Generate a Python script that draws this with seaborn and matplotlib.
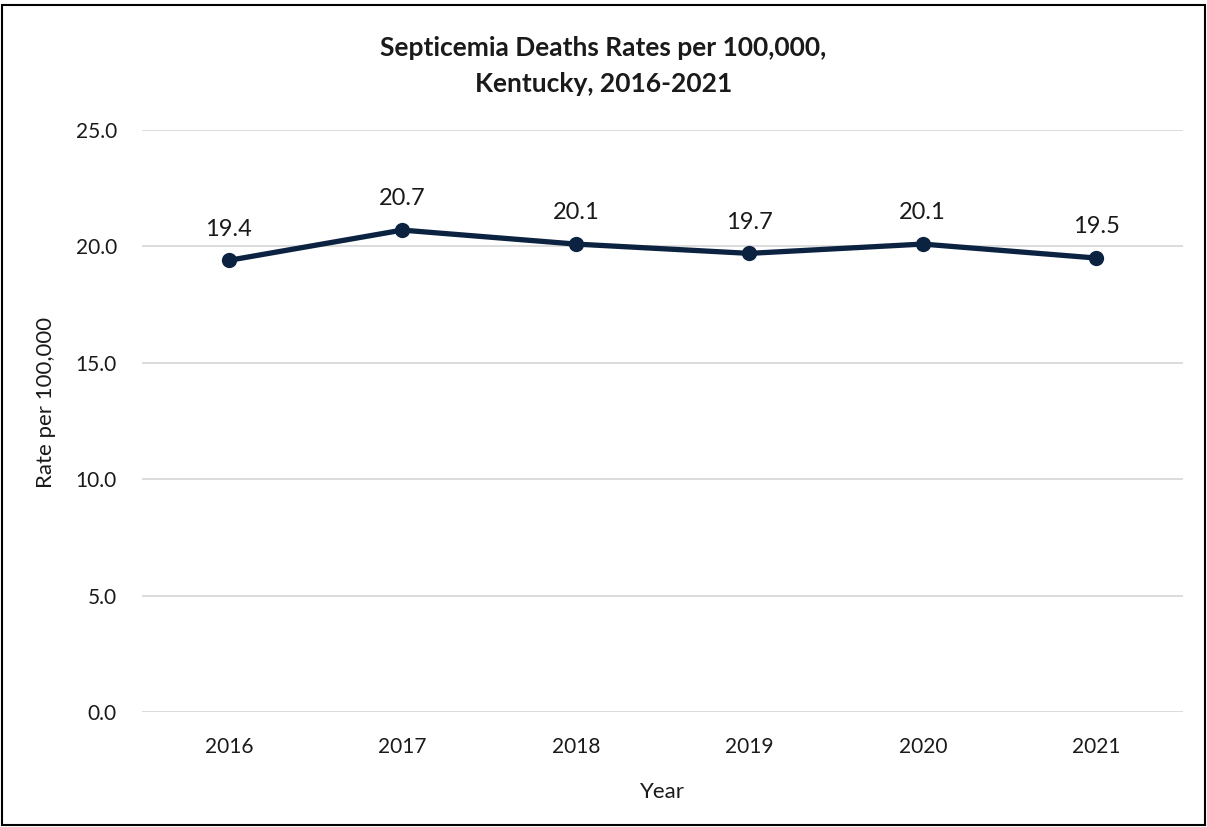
import matplotlib
matplotlib.use("Agg")
import matplotlib.pyplot as plt
import seaborn as sns
import pandas as pd
from matplotlib.patches import Rectangle

years = ['2016', '2017', '2018', '2019', '2020', '2021']
rates = [19.4, 20.7, 20.1, 19.7, 20.1, 19.5]
yticks = [0, 5, 10, 15, 20, 25]

df = pd.DataFrame({'Year': years, 'Rate': rates})

sns.set_theme(style='white')
plt.rcParams['font.family'] = ['Lato', 'DejaVu Sans']

fig = plt.figure(figsize=(12.07, 8.27), dpi=100)
ax = fig.add_axes([142 / 1207, 1 - 712 / 827, (1183 - 142) / 1207, (712 - 130) / 827])

line_color = '#0b2341'
sns.lineplot(data=df, x='Year', y='Rate', ax=ax, color=line_color, linewidth=3.8,
             marker='o', markersize=11, markeredgewidth=0, sort=False)

for i, v in enumerate(rates):  # data labels above points
    ax.annotate(f'{v:.1f}', (i, v), xytext=(0, 15), textcoords='offset points',
                ha='center', va='bottom', fontsize=17, color='#1a1a1a')

ax.set_xlim(-0.5, len(years) - 0.5)
ax.set_ylim(0, 25)
ax.set_yticks(yticks)
ax.set_yticklabels([f'{t:.1f}' for t in yticks])
ax.yaxis.grid(True, color='#d9d9d9', linewidth=1.3)
ax.xaxis.grid(False)
for s in ax.spines.values():
    s.set_visible(False)
ax.tick_params(axis='both', length=0, labelsize=15, colors='#1a1a1a')
ax.tick_params(axis='x', pad=18)
ax.tick_params(axis='y', pad=18)

ax.set_xlabel('Year', fontsize=16, color='#1a1a1a', labelpad=18)
ax.set_ylabel('Rate per 100,000', fontsize=16, color='#1a1a1a')
ax.yaxis.set_label_coords(-86 / 1041, (712 - 402) / 582)

fig.text(0.5, 1 - 66 / 827, 'Septicemia Deaths Rates per 100,000,\nKentucky, 2016-2021',
         ha='center', va='center', fontsize=19, fontweight='bold', color='#1a1a1a',
         linespacing=1.6)

# outer border like the exported chart
fig.patches.append(Rectangle((2 / 1207, 2 / 827), 1203 / 1207, 820 / 827,
                             transform=fig.transFigure, fill=False,
                             edgecolor='black', linewidth=1.5))

fig.savefig('out.png', dpi=100)
